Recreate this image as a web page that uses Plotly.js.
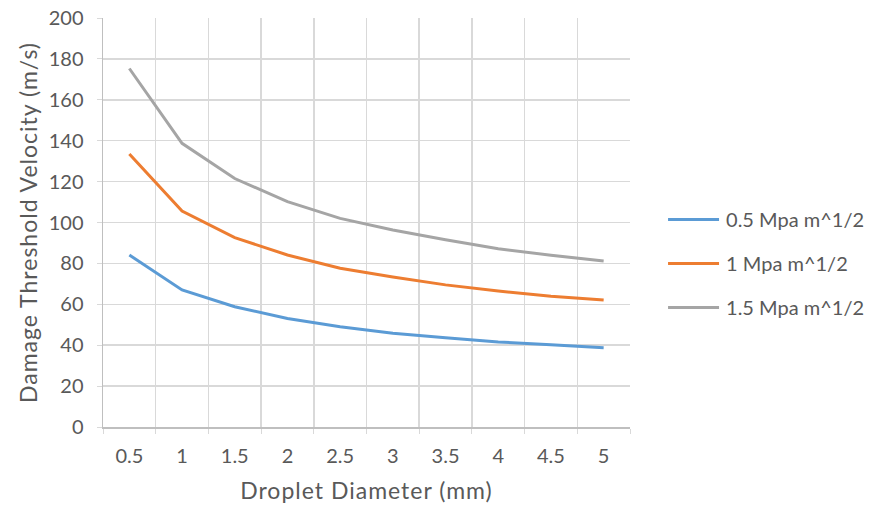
<!DOCTYPE html>
<html>
<head>
<meta charset="utf-8">
<script src="https://cdn.plot.ly/plotly-3.0.1.min.js"></script>
<style>
html,body{margin:0;padding:0;background:#fff;}
#chart{width:873px;height:510px;}
.xtitle,.ytitle{letter-spacing:1px;}
</style>
</head>
<body>
<div id="chart"></div>
<script>
const diameters = ["0.5","1","1.5","2","2.5","3","3.5","4","4.5","5"];
const series1Name = "0.5 Mpa m^1/2";
const series1 = [84.1, 67.0, 58.8, 53.1, 49.0, 45.8, 43.6, 41.6, 40.2, 38.8];
const series2Name = "1 Mpa m^1/2";
const series2 = [133.5, 105.6, 92.6, 84.1, 77.6, 73.3, 69.5, 66.5, 63.9, 62.1];
const series3Name = "1.5 Mpa m^1/2";
const series3 = [175.3, 138.7, 121.5, 110.2, 102.0, 96.3, 91.6, 87.2, 84.0, 81.2];
const colors = ["#5B9BD5", "#ED7D31", "#A5A5A5"];

const fnt = "Lato, 'Open Sans', sans-serif";
const txt = "#595959";
const mk = (y, name, c, g) => ({
  x: diameters, y: y, name: name, type: "scatter", mode: "lines",
  line: {color: c, width: 3}, legendgroup: g
});
const data = [
  mk(series1, series1Name, colors[0], "a"),
  mk(series2, series2Name, colors[1], "b"),
  mk(series3, series3Name, colors[2], "c")
];
const layout = {
  width: 873, height: 510,
  margin: {l: 103, r: 243, t: 18, b: 83},
  paper_bgcolor: "#fff", plot_bgcolor: "#fff",
  font: {family: fnt, size: 20, color: txt},
  showlegend: true,
  legend: {xref: "container", x: 0.7595, xanchor: "left", y: 0.4, yanchor: "middle",
           font: {family: fnt, size: 20, color: txt},
           tracegroupgap: 15, itemwidth: 53},
  xaxis: {
    type: "category", tickson: "boundaries", range: [-0.5, 9.5],
    showgrid: true, gridcolor: "#D9D9D9", gridwidth: 1.5,
    showline: true, linecolor: "#BFBFBF", linewidth: 1.5,
    ticks: "outside", ticklen: 5, tickcolor: "#D9D9D9",
    ticklabelstandoff: 10,
    tickfont: {family: fnt, size: 20, color: txt},
    title: {text: "Droplet Diameter (mm)", font: {family: fnt, size: 23, color: txt}, standoff: 17},
    zeroline: false, fixedrange: true, automargin: false
  },
  yaxis: {
    range: [0, 200], tickvals: [0,20,40,60,80,100,120,140,160,180,200],
    showgrid: true, gridcolor: "#D9D9D9", gridwidth: 1.5,
    showline: true, linecolor: "#BFBFBF", linewidth: 1.5,
    ticks: "outside", ticklen: 5, tickcolor: "#D9D9D9",
    ticklabelstandoff: 9,
    tickfont: {family: fnt, size: 20, color: txt},
    title: {text: "Damage Threshold Velocity (m/s)", font: {family: fnt, size: 23, color: txt}, standoff: 4},
    zeroline: false, fixedrange: true, automargin: false
  }
};
Plotly.newPlot("chart", data, layout, {staticPlot: true, displayModeBar: false}).then(gd => {
  // lengthen the legend line samples to match the reference swatches
  gd.querySelectorAll(".legend .legendlines path").forEach(p => p.setAttribute("d", "M5,0h51"));
});
</script>
</body>
</html>
